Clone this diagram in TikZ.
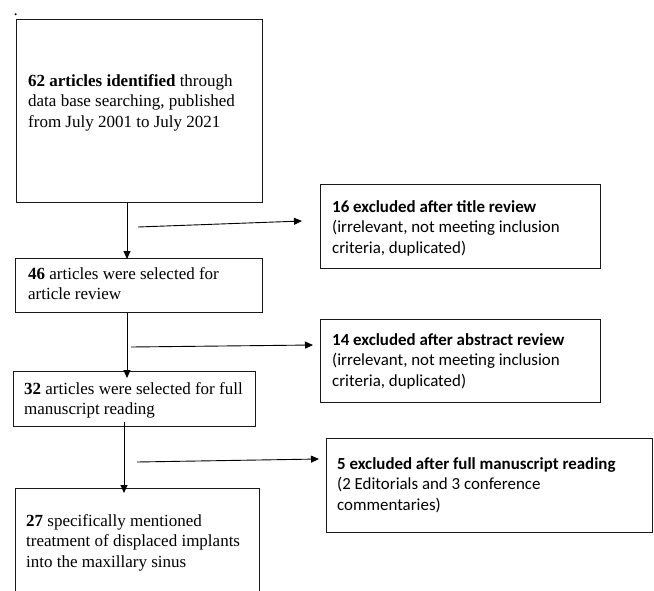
\documentclass[tikz,border=0pt]{standalone}
\usepackage{fontspec}
\setmainfont{Liberation Serif}
\newfontfamily\calfont{Carlito}
\usetikzlibrary{arrows.meta}
\tikzset{
  box/.style={draw=black!90, line width=1pt, anchor=north west, inner sep=0pt},
  serif/.style={anchor=north west, inner sep=0pt, align=left, font=\fontsize{17}{20.5}\selectfont},
  sans/.style={anchor=north west, inner sep=0pt, align=left, font=\calfont\fontsize{16.9}{20.5}\selectfont},
  flow/.style={line width=0.9pt, -{Triangle[length=8pt,width=7pt]}}
}
\begin{document}
\begin{tikzpicture}[x=1pt,y=-1pt]
\useasboundingbox (0,0) rectangle (654,590);
\clip (0,0) rectangle (654,590);
% dot
\node[anchor=base west, inner sep=0pt, font=\fontsize{17}{18}\selectfont] (dot) at (13.5,15) {.};
% left boxes
\node[box, minimum width=246pt, minimum height=183pt] (b1) at (16,19) {};
\node[box, minimum width=247pt, minimum height=54pt] (b2) at (15,258) {};
\node[box, minimum width=242pt, minimum height=55pt] (b3) at (13,371) {};
\node[box, minimum width=244pt, minimum height=130pt] (b4) at (15,488) {};
% right boxes
\node[box, minimum width=280pt, minimum height=84pt] (e1) at (320,184) {};
\node[box, minimum width=280pt, minimum height=83pt] (e2) at (320,319) {};
\node[box, minimum width=326pt, minimum height=94pt] (e3) at (326,438) {};
% texts
\node[serif] (t1) at (28,74) {\textbf{62 articles identified} through\\data base searching, published\\from July 2001 to July 2021};
\node[serif] (t2) at (28,267) {\textbf{46} articles were selected for\\article review};
\node[serif] (t3) at (24,382) {\textbf{32} articles were selected for full\\manuscript reading};
\node[serif] (t4) at (26,514) {\textbf{27} specifically mentioned\\treatment of displaced implants\\into the maxillary sinus};
\node[sans] (s1) at (332,200) {\textbf{16 excluded after title review}\\(irrelevant, not meeting inclusion\\criteria, duplicated)};
\node[sans] (s2) at (332,333) {\textbf{14 excluded after abstract review}\\(irrelevant, not meeting inclusion\\criteria, duplicated)};
\node[sans] (s3) at (337,457) {\textbf{5 excluded after full manuscript reading}\\(2 Editorials and 3 conference\\commentaries)};
% vertical connectors
\coordinate (v1) at (127,0);
\coordinate (v3) at (124,0);
\draw[flow] (b1.south -| v1) -- ([yshift=-1pt]b2.north -| v1);
\draw[flow] (b2.south -| v1) -- ([yshift=-7pt]b3.north -| v1);
\draw[flow] ([yshift=5pt]b3.south -| v3) -- ([yshift=-5pt]b4.north -| v3);
% horizontal connectors
\coordinate (h1s) at (138,227);
\coordinate (h1e) at (302,221);
\coordinate (h2s) at (131,347);
\coordinate (h2e) at (313,345);
\coordinate (h3s) at (137,462);
\coordinate (h3e) at (319,459);
\draw[flow] (h1s) -- (h1e);
\draw[flow] (h2s) -- (h2e);
\draw[flow] (h3s) -- (h3e);
\end{tikzpicture}
\end{document}
